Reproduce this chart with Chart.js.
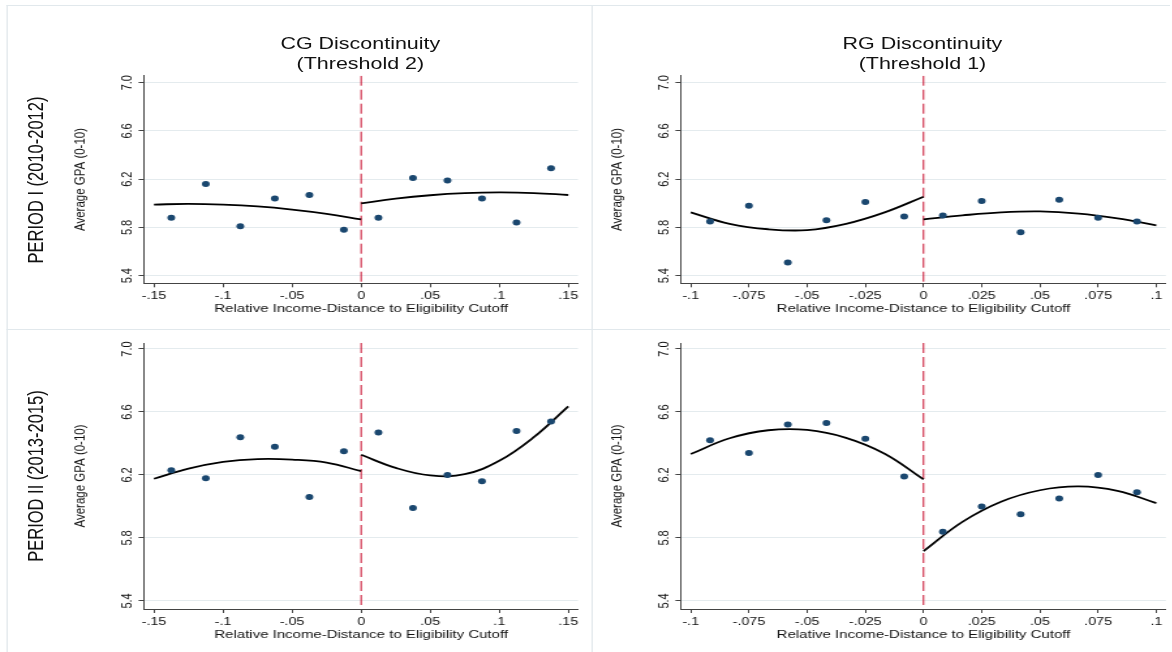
<!DOCTYPE html>
<html>
<head>
<meta charset="utf-8">
<script src="https://cdn.jsdelivr.net/npm/chart.js@4.4.1/dist/chart.umd.min.js"></script>
<style>
  body { margin: 0; background: #fff; overflow: hidden; }
  /* the reference is stretched sideways, so the whole figure is drawn narrow and widened */
  #stage { position: absolute; left: 0; top: 0; width: 901.5px; height: 652px;
           transform: scaleX(1.3); transform-origin: 0 0;
           font-family: 'Liberation Sans', Arial, sans-serif; color: #111; }
  .panel { position: absolute; }
  .coltitle { position: absolute; width: 320px; text-align: center; font-size: 16.5px; line-height: 19.3px; }
  .rowlab { position: absolute; white-space: nowrap; font-size: 16.5px; line-height: 1;
            transform: translate(-50%, -50%) rotate(-90deg); }
  .rule { position: absolute; background: #e1e8ec; }
</style>
</head>
<body>
<div id="stage">
  <div class="rule" style="left:5.1px; top:4.7px; width:1px; height:648px"></div>
  <div class="rule" style="left:455.1px; top:4.7px; width:1px; height:648px"></div>
  <div class="rule" style="left:5.1px; top:4.7px; width:895px; height:1px"></div>
  <div class="rule" style="left:5.1px; top:329.3px; width:895px; height:1px"></div>

  <div class="coltitle" style="left:117.2px; top:34.4px">CG Discontinuity<br>(Threshold 2)</div>
  <div class="coltitle" style="left:549.6px; top:34.4px">RG Discontinuity<br>(Threshold 1)</div>
  <div class="rowlab" style="left:26.7px; top:180px">PERIOD I (2010-2012)</div>
  <div class="rowlab" style="left:26.7px; top:475.5px">PERIOD II (2013-2015)</div>

  <div class="panel" style="left:0px; top:0px; width:448.6px; height:326.3px"><canvas id="p1"></canvas></div>
  <div class="panel" style="left:412.83px; top:0px; width:487.77px; height:326.3px"><canvas id="p2"></canvas></div>
  <div class="panel" style="left:0px; top:330px; width:448.6px; height:322px"><canvas id="p3"></canvas></div>
  <div class="panel" style="left:412.83px; top:330px; width:487.77px; height:322px"><canvas id="p4"></canvas></div>
</div>

<script>
// --- DATI ---
// bin centres (relative income distance)
const cgBins = [-0.1375, -0.1125, -0.0875, -0.0625, -0.0375, -0.0125, 0.0125, 0.0375, 0.0625, 0.0875, 0.1125, 0.1375];
const rgBins = [-0.0917, -0.075, -0.0583, -0.0417, -0.025, -0.0083, 0.0083, 0.025, 0.0417, 0.0583, 0.075, 0.0917];

// average GPA per bin
const cgMeansPeriod1 = [5.88, 6.16, 5.81, 6.04, 6.07, 5.78, 5.88, 6.21, 6.19, 6.04, 5.84, 6.29];
const rgMeansPeriod1 = [5.85, 5.98, 5.51, 5.86, 6.01, 5.89, 5.90, 6.02, 5.76, 6.03, 5.88, 5.85];
const cgMeansPeriod2 = [6.23, 6.18, 6.44, 6.38, 6.06, 6.35, 6.47, 5.99, 6.20, 6.16, 6.48, 6.54];
const rgMeansPeriod2 = [6.42, 6.34, 6.52, 6.53, 6.43, 6.19, 5.84, 6.00, 5.95, 6.05, 6.20, 6.09];

const cgFitLeftX  = [-0.15, -0.125, -0.1, -0.075, -0.05, -0.025, 0];
const cgFitRightX = [0, 0.025, 0.05, 0.075, 0.1, 0.125, 0.15];
const rgFitLeftX  = [-0.1, -0.0833, -0.0667, -0.05, -0.0333, -0.0167, 0];
const rgFitRightX = [0, 0.0167, 0.0333, 0.05, 0.0667, 0.0833, 0.1];

const cgFitLeftPeriod1  = [5.990, 5.995, 5.989, 5.974, 5.948, 5.913, 5.867];
const cgFitRightPeriod1 = [6.000, 6.039, 6.067, 6.084, 6.090, 6.085, 6.069];
const rgFitLeftPeriod1  = [5.925, 5.830, 5.785, 5.778, 5.830, 5.925, 6.055];
const rgFitRightPeriod1 = [5.867, 5.900, 5.925, 5.933, 5.915, 5.875, 5.818];
const cgFitLeftPeriod2  = [6.176, 6.240, 6.283, 6.301, 6.298, 6.279, 6.224];
const cgFitRightPeriod2 = [6.328, 6.245, 6.197, 6.205, 6.290, 6.440, 6.636];
const rgFitLeftPeriod2  = [6.333, 6.433, 6.484, 6.486, 6.436, 6.335, 6.172];
const rgFitRightPeriod2 = [5.716, 5.902, 6.030, 6.103, 6.127, 6.099, 6.021];

const cutoff = 0;

// tick values and labels
const yTicks = [5.4, 5.8, 6.2, 6.6, 7.0];
const yTickLabels = ['5.4', '5.8', '6.2', '6.6', '7.0'];
const cgXTicks = [-0.15, -0.1, -0.05, 0, 0.05, 0.1, 0.15];
const cgXTickLabels = ['-.15', '-.1', '-.05', '0', '.05', '.1', '.15'];
const rgXTicks = [-0.1, -0.075, -0.05, -0.025, 0, 0.025, 0.05, 0.075, 0.1];
const rgXTickLabels = ['-.1', '-.075', '-.05', '-.025', '0', '.025', '.05', '.075', '.1'];

// --- STILE ---
Chart.defaults.font.family = "'Liberation Sans', Arial, sans-serif";
Chart.defaults.color = '#111';

const DOT = '#1a476f';
const AXIS = '#444';
const GRID = '#e4ebee';
const CUT = '#c8102e';

function pts(xs, ys) {
  return xs.map((x, i) => ({ x: x, y: ys[i] }));
}

function makePanel(id, cfg) {
  const fitStyle = { type: 'line', borderColor: '#000', borderWidth: 1.8, pointRadius: 0, tension: 0.4, fill: false, order: 1 };
  return new Chart(document.getElementById(id), {
    type: 'scatter',
    data: {
      datasets: [
        { data: pts(cfg.bins, cfg.means), backgroundColor: DOT, borderColor: DOT,
          pointRadius: 3, pointBorderWidth: 0, order: 0 },
        Object.assign({ data: pts(cfg.leftX, cfg.leftY) }, fitStyle),
        Object.assign({ data: pts(cfg.rightX, cfg.rightY) }, fitStyle),
        // linea tratteggiata della soglia
        { type: 'line', data: [{ x: cutoff, y: cfg.yMax }, { x: cutoff, y: cfg.yMin }],
          borderColor: CUT, borderWidth: 1, borderDash: [10, 4], pointRadius: 0, order: 2 }
      ]
    },
    options: {
      responsive: true,
      maintainAspectRatio: false,
      animation: false,
      events: [],
      layout: { padding: { left: 0, right: 5, top: cfg.padTop, bottom: 0 } },
      plugins: { legend: { display: false }, tooltip: { enabled: false } },
      scales: {
        x: {
          type: 'linear', min: cfg.xMin, max: cfg.xMax,
          afterBuildTicks: s => { s.ticks = cfg.xTicks.map(v => ({ value: v })); },
          afterFit: s => { s.height = 43; },
          ticks: { autoSkip: false, minRotation: 0, maxRotation: 0, padding: 2.1,
                   font: { size: 11 }, callback: (v, i) => cfg.xLabels[i] },
          grid: { drawOnChartArea: false, drawTicks: true, tickLength: 4, tickColor: AXIS },
          border: { display: true, color: AXIS, width: 1 },
          title: { display: true, text: 'Relative Income-Distance to Eligibility Cutoff',
                   font: { size: 11.5 }, padding: { top: 0, bottom: 10.4 } }
        },
        y: {
          type: 'linear', min: cfg.yMin, max: cfg.yMax,
          afterBuildTicks: s => { s.ticks = yTicks.map(v => ({ value: v })); },
          afterFit: s => { s.width = 110.77; },
          ticks: { autoSkip: false, minRotation: 90, maxRotation: 90, crossAlign: 'center',
                   padding: 1.2, font: { size: 11 }, callback: (v, i) => yTickLabels[i] },
          grid: { color: GRID, tickColor: AXIS, tickLength: 4.4, lineWidth: 1 },
          border: { display: true, color: AXIS, width: 1 },
          title: { display: true, text: 'Average GPA (0-10)',
                   font: { size: 11.5 }, padding: { top: 55.4, bottom: 0 } }
        }
      }
    }
  });
}

const cgAxis = { xMin: -0.157, xMax: 0.157, xTicks: cgXTicks, xLabels: cgXTickLabels };
const rgAxis = { xMin: -0.1041, xMax: 0.1041, xTicks: rgXTicks, xLabels: rgXTickLabels };
const row1 = { yMin: 5.337, yMax: 7.058, padTop: 75.7 };
const row2 = { yMin: 5.349, yMax: 7.038, padTop: 13 };

makePanel('p1', Object.assign({ bins: cgBins, means: cgMeansPeriod1,
  leftX: cgFitLeftX, leftY: cgFitLeftPeriod1, rightX: cgFitRightX, rightY: cgFitRightPeriod1 }, cgAxis, row1));
makePanel('p2', Object.assign({ bins: rgBins, means: rgMeansPeriod1,
  leftX: rgFitLeftX, leftY: rgFitLeftPeriod1, rightX: rgFitRightX, rightY: rgFitRightPeriod1 }, rgAxis, row1));
makePanel('p3', Object.assign({ bins: cgBins, means: cgMeansPeriod2,
  leftX: cgFitLeftX, leftY: cgFitLeftPeriod2, rightX: cgFitRightX, rightY: cgFitRightPeriod2 }, cgAxis, row2));
makePanel('p4', Object.assign({ bins: rgBins, means: rgMeansPeriod2,
  leftX: rgFitLeftX, leftY: rgFitLeftPeriod2, rightX: rgFitRightX, rightY: rgFitRightPeriod2 }, rgAxis, row2));
</script>
</body>
</html>
